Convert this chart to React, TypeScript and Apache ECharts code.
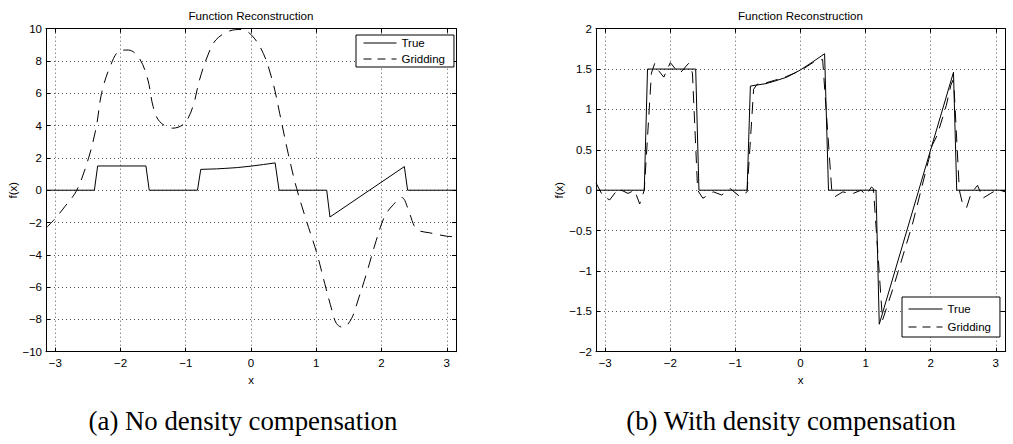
import React, { useEffect, useRef } from 'react';
import * as echarts from 'echarts';

const PI = Math.PI;
const FONT = '"Liberation Sans", Arial, Helvetica, sans-serif';
const SERIF = '"Liberation Serif", "Times New Roman", serif';

// True function (same for both panels)
const trueX = [-3.1416, -2.40, -2.35, -1.61, -1.56, -0.82, -0.77, -0.53, -0.40, -0.21, 0.0, 0.19, 0.37, 0.43, 1.16, 1.21, 2.35, 2.40, 3.1416];
const trueY = [0, 0, 1.5, 1.5, 0, 0, 1.29, 1.32, 1.35, 1.40, 1.49, 1.59, 1.69, 0, 0, -1.66, 1.46, 0, 0];

// Panel (a): gridding without density compensation
const gridAX = [-3.1416, -3.0, -2.85, -2.67, -2.49, -2.37, -2.29, -2.16, -2.01, -1.88, -1.71, -1.58, -1.50, -1.40, -1.20, -1.02, -0.89, -0.79, -0.66, -0.54, -0.33, -0.15, 0.01, 0.19, 0.34, 0.44, 0.57, 0.70, 0.85, 1.01, 1.13, 1.24, 1.31, 1.41, 1.54, 1.64, 1.77, 1.92, 2.05, 2.18, 2.31, 2.43, 2.50, 2.57, 2.74, 3.0, 3.1416];
const gridAY = [-2.35, -1.75, -1.0, 0, 1.98, 3.94, 6.0, 7.65, 8.64, 8.68, 8.16, 6.82, 5.18, 4.25, 3.84, 4.14, 5.18, 6.82, 8.37, 9.3, 9.86, 9.95, 9.6, 8.46, 6.6, 4.75, 2.27, 0.1, -1.9, -3.92, -5.78, -7.43, -8.26, -8.5, -7.95, -6.81, -5.16, -3.10, -1.6, -0.9, -0.45, -1.44, -2.2, -2.5, -2.64, -2.85, -2.88];

// Panel (b): gridding with density compensation
const gridBX = [-3.1416, -3.03, -2.93, -2.80, -2.65, -2.55, -2.47, -2.40, -2.29, -2.24, -2.18, -2.10, -2.00, -1.92, -1.85, -1.72, -1.66, -1.58, -1.50, -1.34, -1.21, -1.08, -0.93, -0.82, -0.72, -0.67, -0.53, -0.40, -0.21, 0.0, 0.19, 0.34, 0.48, 0.53, 0.65, 0.78, 0.93, 1.01, 1.09, 1.12, 1.26, 1.42, 1.72, 1.97, 2.02, 2.10, 2.24, 2.31, 2.34, 2.36, 2.44, 2.49, 2.55, 2.62, 2.72, 2.80, 2.92, 3.03, 3.1416];
const gridBY = [0.09, -0.08, -0.12, 0.02, -0.04, 0.0, -0.17, 0.0, 1.45, 1.57, 1.48, 1.40, 1.58, 1.50, 1.45, 1.57, 1.45, 0.0, -0.10, -0.02, -0.06, 0.02, -0.08, -0.02, 1.25, 1.31, 1.33, 1.36, 1.41, 1.48, 1.58, 1.62, 0.0, -0.08, -0.02, -0.05, 0.0, -0.06, 0.04, 0.02, -1.61, -1.22, -0.42, 0.38, 0.55, 0.68, 1.05, 1.30, 1.36, 1.25, 0.0, -0.17, -0.22, -0.04, 0.06, -0.10, -0.04, 0.01, -0.02];

const titleText = 'Function Reconstruction';
const captionA = '(a) No density compensation';
const captionB = '(b) With density compensation';
const seriesNames = ['True', 'Gridding'];

const zip = (xs: number[], ys: number[]) => xs.slice(0, Math.min(xs.length, ys.length)).map((x, i) => [x, ys[i]]);
const fmtNum = (v: number) => String(Math.round(v * 1000) / 1000).replace('-', '\u2212');
const xFmt = (v: number) => (Math.abs(v - Math.round(v)) < 1e-6 ? fmtNum(Math.round(v)) : '');

const labelStyle = { color: '#000', fontSize: 11.5, fontFamily: FONT };
const black = { color: '#000', width: 1 };
const clear = 'rgba(0,0,0,0)';

function makeXAxes(gridIndex: number) {
  return [
    {
      type: 'value', gridIndex, min: -PI, max: PI, splitNumber: 6, position: 'bottom',
      axisLine: { show: true, onZero: false, lineStyle: black },
      axisTick: { show: true, inside: true, length: 4, lineStyle: black },
      axisLabel: { ...labelStyle, margin: 5, formatter: xFmt },
      splitLine: { show: true, lineStyle: { color: '#555', type: [1, 3], width: 1 } },
      name: 'x', nameLocation: 'middle', nameGap: 18,
      nameTextStyle: { ...labelStyle },
    },
    {
      type: 'value', gridIndex, min: -PI, max: PI, splitNumber: 6, position: 'top',
      axisLine: { show: true, onZero: false, lineStyle: black },
      axisTick: { show: true, inside: true, length: 4, lineStyle: black },
      axisLabel: { show: false },
      splitLine: { show: false },
    },
  ];
}

function makeYAxes(gridIndex: number, min: number, max: number, interval: number, nameGap: number) {
  return [
    {
      type: 'value', gridIndex, min, max, interval, position: 'left',
      axisLine: { show: true, onZero: false, lineStyle: black },
      axisTick: { show: true, inside: true, length: 4, lineStyle: black },
      axisLabel: { ...labelStyle, margin: 4, formatter: fmtNum },
      splitLine: { show: true, lineStyle: { color: '#555', type: [1, 3], width: 1 } },
      name: 'f(x)', nameLocation: 'middle', nameGap,
      nameTextStyle: { ...labelStyle },
    },
    {
      type: 'value', gridIndex, min, max, interval, position: 'right',
      axisLine: { show: true, onZero: false, lineStyle: black },
      axisTick: { show: true, inside: true, length: 4, lineStyle: black },
      axisLabel: { show: false },
      splitLine: { show: false },
    },
  ];
}

function lineSeries(name: string, data: number[][], xi: number, yi: number, dashed: boolean, smooth: number | boolean) {
  return {
    type: 'line', name, data, xAxisIndex: xi, yAxisIndex: yi,
    symbol: 'none', showSymbol: false, smooth, clip: true,
    lineStyle: { color: '#000', width: 1, type: dashed ? [12, 8] : 'solid' },
    itemStyle: { color: '#000' },
    z: dashed ? 3 : 4,
  };
}

function legendOpt(left: number, top: number, itemWidth: number, itemGap: number, padding: number[]) {
  return {
    left, top, orient: 'vertical', selectedMode: false,
    data: [
      { name: seriesNames[0], lineStyle: { width: 1, type: 'solid', color: '#000' } },
      { name: seriesNames[1], lineStyle: { width: 1, type: [8, 6], color: '#000' } },
    ],
    itemWidth, itemHeight: 13, itemGap, padding,
    lineStyle: { width: 1 },
    itemStyle: { color: clear, borderColor: clear, borderWidth: 0, opacity: 0 },
    borderColor: '#000', borderWidth: 1, backgroundColor: '#fff', borderRadius: 0,
    textStyle: { ...labelStyle },
  };
}

export default function App() {
  const ref = useRef<HTMLDivElement>(null);
  useEffect(() => {
    if (!ref.current) return;
    const chart = echarts.init(ref.current, undefined, { renderer: 'svg' });
    chart.setOption({
      animation: false,
      backgroundColor: '#fff',
      grid: [
        { left: 46, top: 28.7, width: 410, height: 323, containLabel: false },
        { left: 596, top: 28.7, width: 409, height: 323, containLabel: false },
      ],
      xAxis: [...makeXAxes(0), ...makeXAxes(1)],
      yAxis: [...makeYAxes(0, -10, 10, 2, 26), ...makeYAxes(1, -2, 2, 0.5, 30)],
      legend: [
        legendOpt(356, 35, 33, 4, [2, 9, 2, 7]),
        legendOpt(902, 297, 34, 6, [6, 9, 4, 6]),
      ],
      series: [
        lineSeries(seriesNames[0], zip(trueX, trueY), 0, 0, false, false),
        lineSeries(seriesNames[1], zip(gridAX, gridAY), 0, 0, true, 0.35),
        lineSeries(seriesNames[0], zip(trueX, trueY), 2, 2, false, false),
        lineSeries(seriesNames[1], zip(gridBX, gridBY), 2, 2, true, false),
      ],
      graphic: [
        { type: 'text', x: 251, y: 15.5, style: { text: titleText, fontSize: 11.6, fontFamily: FONT, fill: '#000', align: 'center', verticalAlign: 'middle' } },
        { type: 'text', x: 800.5, y: 15.5, style: { text: titleText, fontSize: 11.6, fontFamily: FONT, fill: '#000', align: 'center', verticalAlign: 'middle' } },
        { type: 'text', x: 243, y: 421, style: { text: captionA, fontSize: 26.8, fontFamily: SERIF, fill: '#000', align: 'center', verticalAlign: 'middle' } },
        { type: 'text', x: 791, y: 421, style: { text: captionB, fontSize: 26.8, fontFamily: SERIF, fill: '#000', align: 'center', verticalAlign: 'middle' } },
      ],
    });
    return () => chart.dispose();
  }, []);
  return <div ref={ref} style={{ position: 'absolute', left: 0, top: 0, width: 1013, height: 444, background: '#fff' }} />;
}
